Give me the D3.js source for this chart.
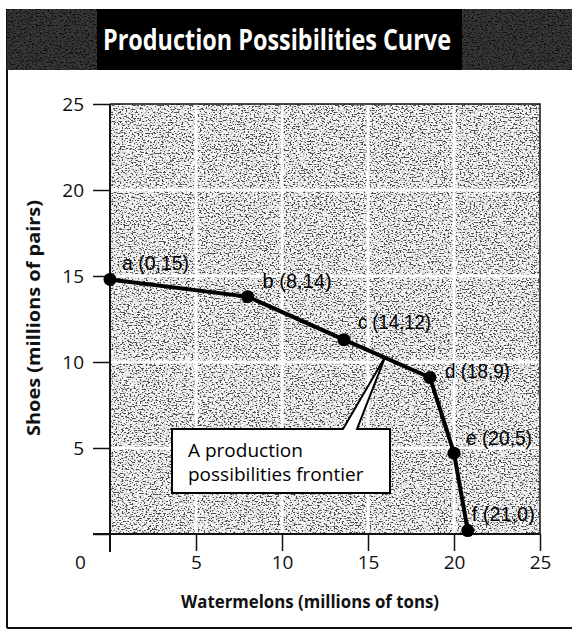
<!DOCTYPE html>
<html>
<head>
<meta charset="utf-8">
<script src="https://cdn.jsdelivr.net/npm/d3@7"></script>
<style>
  html, body { margin: 0; padding: 0; background: #fff; }
  svg { display: block; }
</style>
</head>
<body>
<div id="chart"></div>
<script>
// ---- data ----
const pointNames   = ["a", "b", "c", "d", "e", "f"];
const watermelons  = [0, 8, 13.6, 18.6, 20.0, 20.8];   // plotted x (millions of tons)
const shoes        = [14.8, 13.8, 11.3, 9.1, 4.7, 0.2]; // plotted y (millions of pairs)
const pointLabels  = ["a (0,15)", "b (8,14)", "c (14,12)", "d (18,9)", "e (20,5)", "f (21,0)"];
const xTicks       = [0, 5, 10, 15, 20, 25];
const yTicks       = [0, 5, 10, 15, 20, 25];
const annotationTarget = [16.0, 10.3];
const annotationLines  = ["A production", "possibilities frontier"];
const titleText  = "Production Possibilities Curve";
const xTitleText = "Watermelons (millions of tons)";
const yTitleText = "Shoes (millions of pairs)";

// ---- layout ----
const W = 572, H = 632;
const svg = d3.select("#chart").append("svg").attr("width", W).attr("height", H);
const defs = svg.append("defs");

const grain = defs.append("filter").attr("id", "grain")
  .attr("x", 0).attr("y", 0).attr("width", "100%").attr("height", "100%")
  .attr("filterUnits", "objectBoundingBox");
grain.append("feTurbulence").attr("type", "fractalNoise").attr("baseFrequency", "0.5 0.75")
  .attr("numOctaves", 2).attr("seed", 7).attr("result", "n");
grain.append("feColorMatrix").attr("type", "matrix")
  .attr("values", "3 0 0 0 -1  3 0 0 0 -1  3 0 0 0 -1  0 0 0 0 1");
const ct = grain.append("feComponentTransfer");
["feFuncR", "feFuncG", "feFuncB"].forEach(f =>
  ct.append(f).attr("type", "discrete").attr("tableValues", "0.08 0.42 0.7 0.84 0.95 1"));

const x = d3.scaleLinear().domain([0, 25]).range([110, 540]);
const y = d3.scaleLinear().domain([0, 25]).range([534, 104]);

// outer frame
svg.append("line").attr("x1", 7).attr("x2", 7).attr("y1", 9).attr("y2", 628)
  .attr("stroke", "#111").attr("stroke-width", 2);
svg.append("line").attr("x1", 7).attr("x2", W).attr("y1", 628).attr("y2", 628)
  .attr("stroke", "#111").attr("stroke-width", 2);

// title bar
svg.append("rect").attr("x", 7).attr("y", 9).attr("width", W - 7).attr("height", 61).attr("fill", "#000");
svg.append("rect").attr("x", 7).attr("y", 9).attr("width", 90).attr("height", 61)
  .attr("filter", "url(#grain)").attr("opacity", 0.22);
svg.append("rect").attr("x", 462).attr("y", 9).attr("width", W - 462).attr("height", 61)
  .attr("filter", "url(#grain)").attr("opacity", 0.22);
svg.append("text").attr("x", 277).attr("y", 50).attr("text-anchor", "middle")
  .attr("fill", "#fff").attr("font-family", "'Open Sans', 'Noto Sans', sans-serif")
  .attr("font-weight", 700).attr("font-size", 29)
  .attr("textLength", 348).attr("lengthAdjust", "spacingAndGlyphs")
  .text(titleText);

// plot background with halftone-like grain
svg.append("rect").attr("x", x(0)).attr("y", y(25))
  .attr("width", x(25) - x(0)).attr("height", y(0) - y(25))
  .attr("filter", "url(#grain)");

// white gridlines
const g = svg.append("g");
g.selectAll(".vg").data(xTicks.filter(d => d > 0 && d < 25)).join("line")
  .attr("x1", d => x(d)).attr("x2", d => x(d)).attr("y1", y(25)).attr("y2", y(0))
  .attr("stroke", "#fff").attr("stroke-width", 3);
g.selectAll(".hg").data(yTicks.filter(d => d > 0 && d < 25)).join("line")
  .attr("x1", x(0)).attr("x2", x(25)).attr("y1", d => y(d)).attr("y2", d => y(d))
  .attr("stroke", "#fff").attr("stroke-width", 3);

// plot border top / right
svg.append("path")
  .attr("d", `M${x(0)},${y(25)}H${x(25)}V${y(0)}`)
  .attr("fill", "none").attr("stroke", "#111").attr("stroke-width", 1.5);

// axes
const tickFont = "'Open Sans', 'Noto Sans', sans-serif";
const xAxis = svg.append("g").attr("transform", `translate(0,${y(0)})`)
  .call(d3.axisBottom(x).tickValues(xTicks).tickSize(17).tickSizeOuter(0).tickPadding(5).tickFormat(d3.format("d")));
xAxis.select(".domain").remove();
xAxis.selectAll("text").attr("font-size", 19).attr("font-family", tickFont).attr("fill", "#111")
  .attr("dx", d => d === 0 ? -30 : 0);
xAxis.selectAll("line").attr("stroke", "#111").attr("stroke-width", 1.5);
xAxis.selectAll(".tick").filter(d => d === 0).select("line").remove();

const yAxis = svg.append("g").attr("transform", `translate(${x(0)},0)`)
  .call(d3.axisLeft(y).tickValues(yTicks).tickSize(17).tickSizeOuter(0).tickPadding(9)
    .tickFormat(d => d === 0 ? "" : d3.format("d")(d)));
yAxis.select(".domain").remove();
yAxis.selectAll("text").attr("font-size", 19).attr("font-family", tickFont).attr("fill", "#111");
yAxis.selectAll("line").attr("stroke", "#111").attr("stroke-width", 1.5);

// axis lines (extend past origin)
svg.append("line").attr("x1", x(0)).attr("x2", x(0)).attr("y1", y(25)).attr("y2", y(0) + 18)
  .attr("stroke", "#111").attr("stroke-width", 2);
svg.append("line").attr("x1", x(0) - 17).attr("x2", x(25)).attr("y1", y(0)).attr("y2", y(0))
  .attr("stroke", "#111").attr("stroke-width", 2);

// axis titles
svg.append("text").attr("x", 310).attr("y", 608).attr("text-anchor", "middle")
  .attr("font-family", tickFont).attr("font-weight", 700).attr("font-size", 18)
  .attr("textLength", 258).attr("lengthAdjust", "spacingAndGlyphs").attr("fill", "#111")
  .text(xTitleText);
svg.append("text").attr("transform", "translate(40,318) rotate(-90)").attr("text-anchor", "middle")
  .attr("font-family", tickFont).attr("font-weight", 700).attr("font-size", 18)
  .attr("textLength", 236).attr("lengthAdjust", "spacingAndGlyphs").attr("fill", "#111")
  .text(yTitleText);

// curve
const pts = watermelons.map((w, i) => ({ x: w, y: shoes[i], name: pointNames[i], label: pointLabels[i] }));
svg.append("path").datum(pts)
  .attr("d", d3.line().x(d => x(d.x)).y(d => y(d.y)))
  .attr("fill", "none").attr("stroke", "#000").attr("stroke-width", 4).attr("stroke-linejoin", "round");
svg.selectAll(".dot").data(pts).join("circle")
  .attr("cx", d => x(d.x)).attr("cy", d => y(d.y)).attr("r", 6.5).attr("fill", "#000");

// point labels
const labelOffsets = { a: [12, -9], b: [15, -9], c: [14, -11], d: [15, 1], e: [12, -8], f: [4, -10] };
const labelWidths  = { a: 67, b: 69, c: 73, d: 65, e: 66, f: 63 };
svg.selectAll(".lbl").data(pts).join("text")
  .attr("x", d => x(d.x) + labelOffsets[d.name][0])
  .attr("y", d => y(d.y) + labelOffsets[d.name][1])
  .attr("font-family", "'Liberation Sans', 'Noto Sans', sans-serif").attr("font-size", 20)
  .attr("textLength", d => labelWidths[d.name]).attr("lengthAdjust", "spacingAndGlyphs")
  .attr("fill", "#000")
  .text(d => d.label);

// annotation callout
const bx = 172, by = 429, bw = 218, bh = 64;
const tip = [x(annotationTarget[0]), y(annotationTarget[1])];
const pl = 343, pr = 357;
svg.append("path")
  .attr("d", `M${bx},${by}H${pl}L${tip[0]},${tip[1]}L${pr},${by}H${bx + bw}V${by + bh}H${bx}Z`)
  .attr("fill", "#fff").attr("stroke", "#000").attr("stroke-width", 2).attr("stroke-linejoin", "miter");
svg.append("text").attr("x", 188).attr("y", 457)
  .attr("font-family", tickFont).attr("font-size", 19).attr("fill", "#000")
  .selectAll("tspan").data(annotationLines).join("tspan")
  .attr("x", 188).attr("dy", (d, i) => i === 0 ? 0 : 24)
  .text(d => d);
</script>
</body>
</html>
